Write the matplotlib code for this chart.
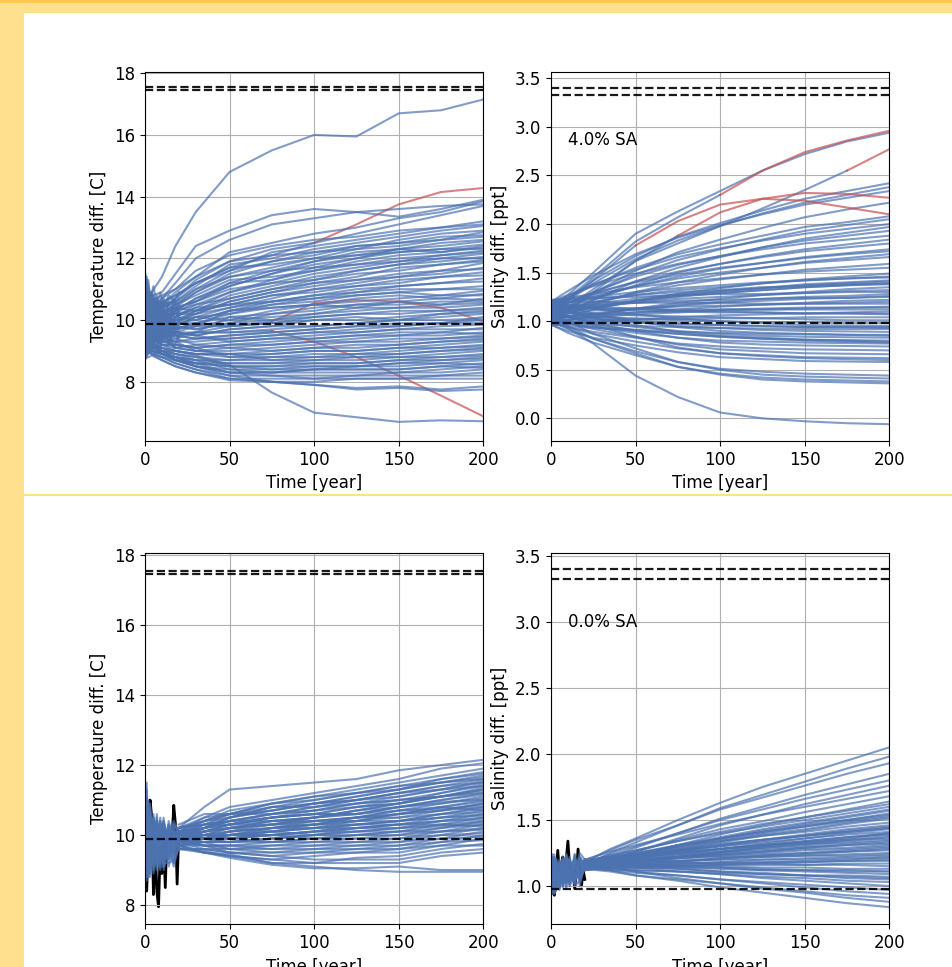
import matplotlib.pyplot as plt
from matplotlib.patches import Rectangle

plt.rcParams['font.size'] = 12

# sample years used for the hand-read trajectories
temp_years = [0, 4, 10, 18, 30, 50, 75, 100, 125, 150, 175, 200]
sal_years = [0, 10, 25, 50, 75, 100, 125, 150, 175, 200]
spinup_years = [0, 1, 2, 3, 5, 7, 9, 11, 14, 17, 20]
forecast_years = [20, 35, 50, 75, 100, 125, 150, 175, 200]
obs_years = list(range(21))
year_ticks = [0, 50, 100, 150, 200]

# reference levels (dashed lines)
temp_levels = [17.55, 17.45, 9.88]
sal_levels = [3.40, 3.325, 0.98]

# ---- 4.0% SA : temperature ----
temp_sa4 = [
    [10.6, 10.9, 11.4, 12.4, 13.5, 14.8, 15.5, 16.0, 15.95, 16.7, 16.8, 17.15],
    [10.2, 10.8, 10.9, 11.5, 12.4, 12.9, 13.4, 13.6, 13.5, 13.35, 13.6, 13.9],
    [11.3, 10.4, 10.7, 11.2, 12.0, 12.6, 13.1, 13.3, 13.5, 13.6, 13.7, 13.75],
    [9.5, 10.6, 10.5, 10.9, 11.4, 12.2, 12.5, 12.8, 13.0, 13.3, 13.5, 13.85],
    [11.0, 10.5, 10.3, 10.7, 11.3, 11.9, 12.3, 12.5, 12.8, 13.1, 13.4, 13.7],
    [8.9, 10.2, 10.6, 10.5, 11.0, 11.6, 12.2, 12.4, 12.6, 12.8, 13.0, 13.2],
    [11.5, 10.7, 10.4, 10.6, 11.1, 11.8, 12.0, 12.3, 12.5, 12.7, 12.9, 13.05],
    [9.8, 9.9, 10.2, 10.4, 10.9, 11.5, 11.9, 12.1, 12.4, 12.5, 12.6, 12.85],
    [10.7, 10.1, 10.5, 10.6, 11.0, 11.4, 11.7, 12.0, 12.3, 12.4, 12.6, 12.7],
    [9.2, 10.0, 9.9, 10.3, 10.7, 11.2, 11.6, 11.9, 12.1, 12.3, 12.4, 12.55],
    [10.9, 10.4, 10.1, 10.2, 10.6, 11.1, 11.5, 11.8, 12.0, 12.2, 12.3, 12.45],
    [10.3, 9.7, 10.0, 10.5, 10.8, 11.3, 11.4, 11.6, 11.9, 12.1, 12.2, 12.35],
    [9.6, 10.6, 10.3, 10.1, 10.4, 10.9, 11.3, 11.7, 11.8, 12.0, 12.1, 12.25],
    [11.2, 9.9, 10.2, 10.4, 10.6, 11.0, 11.2, 11.5, 11.7, 11.9, 12.0, 12.15],
    [10.1, 10.5, 9.8, 10.0, 10.3, 10.8, 11.1, 11.4, 11.6, 11.8, 11.9, 12.05],
    [8.8, 9.6, 10.1, 10.3, 10.5, 10.7, 11.0, 11.3, 11.5, 11.6, 11.8, 11.95],
    [10.8, 10.2, 10.4, 9.9, 10.2, 10.6, 10.9, 11.1, 11.3, 11.5, 11.6, 11.85],
    [9.4, 9.8, 9.7, 10.1, 10.4, 10.5, 10.8, 11.0, 11.2, 11.4, 11.5, 11.7],
    [10.5, 10.9, 10.0, 9.8, 10.1, 10.4, 10.7, 11.0, 11.1, 11.2, 11.4, 11.55],
    [9.9, 9.5, 9.6, 9.9, 10.0, 10.3, 10.6, 10.8, 11.0, 11.1, 11.2, 11.35],
    [11.4, 10.3, 9.9, 10.2, 10.3, 10.5, 10.6, 10.7, 10.9, 11.0, 11.0, 11.1],
    [9.0, 9.4, 9.8, 9.7, 9.9, 10.2, 10.5, 10.6, 10.8, 10.9, 10.8, 10.95],
    [10.4, 10.0, 9.5, 9.6, 9.8, 10.3, 10.4, 10.5, 10.6, 10.7, 10.8, 10.8],
    [9.7, 10.7, 10.2, 10.0, 10.1, 10.0, 10.3, 10.5, 10.4, 10.6, 10.5, 10.7],
    [10.0, 9.3, 9.7, 9.8, 9.7, 9.9, 10.2, 10.3, 10.5, 10.5, 10.6, 10.6],
    [11.1, 10.6, 9.9, 9.5, 9.6, 10.1, 10.0, 10.2, 10.3, 10.4, 10.4, 10.5],
    [9.3, 9.9, 9.4, 9.7, 9.9, 9.8, 9.9, 10.1, 10.2, 10.2, 10.3, 10.4],
    [10.6, 9.6, 10.0, 9.6, 9.5, 9.7, 9.8, 10.0, 10.1, 10.0, 10.2, 10.3],
    [10.2, 9.4, 9.6, 9.4, 9.6, 9.6, 9.7, 9.8, 9.9, 10.0, 10.1, 10.2],
    [8.7, 9.2, 9.5, 9.5, 9.4, 9.5, 9.6, 9.7, 9.8, 9.9, 9.9, 10.1],
    [10.9, 10.1, 9.3, 9.3, 9.3, 9.4, 9.5, 9.6, 9.7, 9.8, 9.9, 10.0],
    [9.5, 9.0, 9.4, 9.6, 9.5, 9.3, 9.4, 9.5, 9.6, 9.7, 9.8, 9.85],
    [10.4, 9.7, 9.2, 9.2, 9.1, 9.2, 9.3, 9.4, 9.5, 9.6, 9.6, 9.75],
    [9.1, 9.5, 9.6, 9.1, 9.2, 9.1, 9.2, 9.3, 9.4, 9.5, 9.5, 9.6],
    [11.0, 9.8, 9.4, 9.3, 9.0, 9.0, 9.1, 9.2, 9.3, 9.3, 9.4, 9.5],
    [9.6, 9.1, 9.1, 9.0, 8.9, 8.9, 9.0, 9.1, 9.1, 9.2, 9.3, 9.4],
    [10.1, 9.4, 9.3, 9.2, 9.1, 8.8, 8.9, 9.0, 9.0, 9.1, 9.2, 9.3],
    [8.9, 9.3, 9.0, 8.9, 8.8, 8.7, 8.8, 8.9, 8.9, 9.0, 9.1, 9.2],
    [10.7, 9.6, 9.2, 9.1, 9.0, 8.9, 8.7, 8.8, 8.8, 8.9, 9.0, 9.1],
    [9.4, 9.0, 8.9, 8.8, 8.7, 8.6, 8.6, 8.7, 8.7, 8.8, 8.9, 9.0],
    [10.3, 9.2, 9.0, 8.9, 8.8, 8.5, 8.5, 8.6, 8.6, 8.7, 8.8, 8.9],
    [9.0, 8.9, 8.8, 8.7, 8.6, 8.5, 8.4, 8.5, 8.5, 8.6, 8.7, 8.8],
    [9.7, 9.3, 9.1, 8.9, 8.7, 8.4, 8.4, 8.4, 8.5, 8.5, 8.6, 8.7],
    [8.8, 9.1, 8.9, 8.8, 8.6, 8.3, 8.3, 8.4, 8.4, 8.4, 8.5, 8.6],
    [9.9, 9.0, 9.0, 8.7, 8.5, 8.3, 8.3, 8.3, 8.3, 8.3, 8.4, 8.5],
    [9.2, 8.9, 8.8, 8.6, 8.4, 8.2, 8.2, 8.2, 8.2, 8.3, 8.3, 8.4],
    [9.6, 9.2, 8.9, 8.7, 8.5, 8.3, 8.2, 8.1, 8.2, 8.2, 8.2, 8.3],
    [8.9, 9.0, 8.8, 8.6, 8.4, 8.1, 8.1, 8.1, 8.1, 8.1, 8.2, 8.2],
    [9.3, 8.9, 8.7, 8.5, 8.3, 8.1, 8.0, 8.0, 8.1, 8.1, 8.1, 8.1],
    [8.75, 8.85, 8.7, 8.5, 8.3, 8.05, 8.0, 7.9, 7.8, 7.85, 7.75, 7.85],
    [9.4, 9.2, 9.1, 9.0, 8.85, 8.55, 7.65, 7.0, 6.85, 6.7, 6.75, 6.72],
    [9.2, 9.0, 8.9, 8.7, 8.5, 8.2, 8.0, 7.9, 7.75, 7.8, 7.7, 7.75],
    [10.5, 10.0, 10.4, 10.7, 11.2, 11.6, 11.9, 12.2, 12.3, 12.6, 12.8, 12.9],
    [9.9, 10.4, 10.2, 10.5, 10.9, 11.4, 11.6, 11.7, 12.0, 12.3, 12.5, 12.6],
    [10.8, 10.6, 10.0, 10.3, 10.7, 11.1, 11.5, 11.9, 12.2, 12.3, 12.2, 12.4],
    [9.3, 9.8, 10.3, 10.4, 10.6, 11.2, 11.3, 11.6, 11.8, 11.9, 12.1, 12.2],
    [11.1, 10.2, 10.3, 10.1, 10.5, 10.9, 11.2, 11.3, 11.6, 11.8, 12.0, 12.0],
    [10.2, 10.8, 9.9, 10.4, 10.3, 10.7, 11.0, 11.2, 11.4, 11.7, 11.8, 11.9],
    [9.6, 9.9, 10.1, 10.2, 10.2, 10.6, 10.9, 11.2, 11.3, 11.4, 11.6, 11.65],
    [10.7, 9.8, 10.0, 9.9, 10.3, 10.5, 10.8, 10.9, 11.1, 11.3, 11.4, 11.45],
    [9.2, 9.6, 9.9, 10.0, 10.2, 10.4, 10.6, 10.8, 10.9, 11.1, 11.2, 11.25],
    [10.4, 10.3, 9.7, 10.1, 10.0, 10.3, 10.5, 10.7, 10.8, 10.9, 11.0, 11.0],
    [9.8, 9.5, 10.0, 9.8, 10.1, 10.2, 10.4, 10.5, 10.7, 10.8, 10.7, 10.85],
    [10.9, 10.1, 9.6, 9.9, 9.9, 10.1, 10.2, 10.4, 10.5, 10.6, 10.7, 10.65],
    [9.5, 10.2, 9.8, 9.7, 9.8, 10.0, 10.1, 10.2, 10.4, 10.4, 10.5, 10.55],
    [10.1, 9.6, 9.5, 9.8, 9.7, 9.9, 10.0, 10.1, 10.2, 10.3, 10.3, 10.35],
    [11.2, 10.4, 9.7, 9.6, 9.6, 9.8, 9.9, 10.0, 10.0, 10.1, 10.2, 10.25],
    [9.1, 9.4, 9.6, 9.6, 9.5, 9.7, 9.8, 9.8, 9.9, 10.0, 10.0, 10.05],
    [10.6, 9.9, 9.4, 9.5, 9.4, 9.5, 9.6, 9.7, 9.8, 9.8, 9.9, 9.9],
    [9.7, 9.2, 9.5, 9.3, 9.4, 9.4, 9.5, 9.6, 9.6, 9.7, 9.7, 9.7],
    [10.3, 9.5, 9.3, 9.4, 9.2, 9.3, 9.4, 9.4, 9.5, 9.5, 9.6, 9.55],
    [8.9, 9.1, 9.2, 9.2, 9.1, 9.2, 9.2, 9.3, 9.3, 9.4, 9.4, 9.45],
    [10.0, 9.6, 9.4, 9.1, 9.0, 9.1, 9.0, 9.1, 9.2, 9.2, 9.3, 9.35],
    [9.4, 9.1, 9.0, 9.0, 8.9, 8.9, 8.9, 9.0, 9.0, 9.1, 9.1, 9.15],
    [10.5, 9.4, 9.2, 9.0, 8.9, 8.8, 8.8, 8.8, 8.9, 8.9, 9.0, 9.05],
    [9.0, 8.9, 9.0, 8.8, 8.7, 8.7, 8.7, 8.7, 8.8, 8.8, 8.8, 8.85],
    [9.8, 9.3, 8.9, 8.8, 8.6, 8.6, 8.6, 8.6, 8.6, 8.7, 8.7, 8.75],
    [9.2, 9.0, 8.9, 8.7, 8.6, 8.5, 8.5, 8.5, 8.5, 8.6, 8.6, 8.55],
    [9.5, 9.2, 9.0, 8.8, 8.5, 8.4, 8.3, 8.4, 8.4, 8.4, 8.5, 8.45],
    [10.2, 10.6, 10.8, 11.0, 11.6, 12.1, 12.4, 12.6, 12.7, 12.9, 13.0, 13.1],
    [10.0, 10.2, 10.7, 11.0, 11.4, 11.9, 12.1, 12.2, 12.4, 12.5, 12.7, 12.75],
    [11.0, 10.8, 10.5, 10.8, 11.2, 11.7, 11.8, 12.0, 12.1, 12.2, 12.3, 12.3],
]
temp_sa4_red = [
    [10.0, 10.3, 10.6, 10.8, 11.2, 11.7, 12.1, 12.5, 13.1, 13.75, 14.15, 14.28],
    [9.8, 10.2, 9.8, 9.9, 9.8, 9.8, 9.95, 10.55, 10.65, 10.6, 10.4, 9.95],
    [9.5, 9.3, 9.4, 9.5, 9.6, 9.6, 9.65, 9.3, 8.8, 8.2, 7.55, 6.88],
]
temp_sa4_red_from = [100, 75, 75]
temp_sa4_spinup = [
    [11.6, 10.9, 11.3, 10.6, 11.1, 10.5, 10.9, 10.4, 10.8, 10.6, 10.9],
    [8.7, 9.3, 8.9, 9.5, 9.1, 9.6, 9.2, 9.7, 9.3, 9.6, 9.4],
    [10.9, 11.4, 10.2, 10.9, 10.3, 10.8, 10.1, 10.7, 10.3, 10.5, 10.7],
    [9.3, 8.8, 9.8, 9.0, 9.7, 9.2, 9.8, 9.3, 9.7, 9.1, 9.5],
    [10.3, 10.8, 9.5, 10.5, 9.6, 10.4, 9.5, 10.2, 9.8, 10.4, 10.1],
    [11.3, 10.0, 10.8, 9.9, 10.7, 9.9, 10.6, 9.8, 10.5, 9.9, 10.3],
    [9.6, 10.5, 9.2, 10.2, 9.3, 10.1, 9.4, 10.3, 9.5, 10.0, 9.7],
    [10.0, 9.4, 10.4, 9.6, 10.3, 9.5, 10.0, 9.6, 10.1, 9.5, 9.9],
    [11.0, 10.2, 10.6, 10.8, 9.9, 10.6, 10.3, 10.0, 10.6, 10.2, 10.5],
    [9.0, 9.8, 9.4, 9.2, 9.9, 9.4, 9.0, 9.9, 9.2, 9.8, 9.6],
    [10.6, 9.7, 10.0, 10.3, 10.1, 9.8, 10.2, 10.5, 9.9, 10.7, 10.2],
    [9.8, 10.9, 10.1, 9.7, 10.5, 10.2, 9.7, 9.4, 10.2, 9.7, 10.0],
]

# ---- 4.0% SA : salinity ----
sal_sa4 = [
    [1.15, 1.27, 1.5, 1.9, 2.13, 2.34, 2.55, 2.72, 2.85, 2.94],
    [1.1, 1.23, 1.42, 1.67, 1.87, 2.01, 2.14, 2.26, 2.34, 2.42],
    [1.08, 1.21, 1.39, 1.64, 1.83, 1.98, 2.11, 2.22, 2.3, 2.38],
    [1.2, 1.31, 1.47, 1.69, 1.86, 1.99, 2.1, 2.2, 2.27, 2.34],
    [1.0, 1.12, 1.29, 1.52, 1.71, 1.84, 1.96, 2.07, 2.15, 2.22],
    [1.15, 1.24, 1.37, 1.55, 1.69, 1.79, 1.88, 1.97, 2.02, 2.08],
    [1.05, 1.15, 1.29, 1.48, 1.63, 1.74, 1.84, 1.93, 1.99, 2.05],
    [1.18, 1.26, 1.38, 1.53, 1.66, 1.75, 1.83, 1.9, 1.95, 2.0],
    [0.98, 1.08, 1.22, 1.41, 1.55, 1.66, 1.76, 1.85, 1.91, 1.97],
    [1.1, 1.18, 1.3, 1.46, 1.58, 1.67, 1.76, 1.83, 1.88, 1.93],
    [1.2, 1.27, 1.36, 1.49, 1.59, 1.67, 1.74, 1.8, 1.84, 1.88],
    [1.02, 1.1, 1.22, 1.37, 1.5, 1.59, 1.67, 1.74, 1.79, 1.84],
    [1.12, 1.19, 1.28, 1.41, 1.51, 1.59, 1.66, 1.72, 1.76, 1.8],
    [1.08, 1.15, 1.24, 1.36, 1.46, 1.54, 1.6, 1.66, 1.7, 1.74],
    [1.16, 1.22, 1.29, 1.4, 1.48, 1.55, 1.6, 1.65, 1.69, 1.72],
    [1.0, 1.07, 1.17, 1.3, 1.4, 1.48, 1.55, 1.61, 1.65, 1.69],
    [1.14, 1.19, 1.26, 1.36, 1.44, 1.5, 1.55, 1.6, 1.63, 1.66],
    [1.06, 1.11, 1.19, 1.29, 1.37, 1.43, 1.48, 1.53, 1.56, 1.59],
    [1.2, 1.24, 1.28, 1.35, 1.4, 1.44, 1.48, 1.51, 1.53, 1.55],
    [1.0, 1.05, 1.12, 1.21, 1.28, 1.34, 1.39, 1.43, 1.46, 1.49],
    [1.12, 1.15, 1.2, 1.27, 1.32, 1.35, 1.39, 1.42, 1.44, 1.46],
    [1.05, 1.09, 1.14, 1.21, 1.26, 1.31, 1.34, 1.38, 1.4, 1.42],
    [1.18, 1.2, 1.23, 1.27, 1.3, 1.32, 1.35, 1.36, 1.38, 1.39],
    [0.97, 1.01, 1.06, 1.13, 1.19, 1.23, 1.27, 1.3, 1.33, 1.35],
    [1.1, 1.12, 1.15, 1.19, 1.23, 1.25, 1.27, 1.29, 1.31, 1.32],
    [1.22, 1.23, 1.24, 1.25, 1.27, 1.28, 1.28, 1.29, 1.3, 1.3],
    [1.02, 1.05, 1.08, 1.13, 1.17, 1.2, 1.23, 1.25, 1.26, 1.28],
    [1.15, 1.16, 1.17, 1.19, 1.21, 1.22, 1.23, 1.24, 1.24, 1.25],
    [0.99, 1.01, 1.05, 1.09, 1.12, 1.15, 1.17, 1.19, 1.21, 1.22],
    [1.08, 1.09, 1.11, 1.13, 1.15, 1.16, 1.17, 1.18, 1.19, 1.2],
    [1.2, 1.2, 1.2, 1.19, 1.19, 1.19, 1.18, 1.18, 1.18, 1.18],
    [1.04, 1.05, 1.07, 1.09, 1.1, 1.12, 1.13, 1.14, 1.14, 1.15],
    [1.13, 1.13, 1.13, 1.13, 1.12, 1.12, 1.12, 1.12, 1.12, 1.12],
    [0.96, 0.97, 0.99, 1.02, 1.04, 1.06, 1.07, 1.08, 1.09, 1.1],
    [1.17, 1.16, 1.15, 1.13, 1.11, 1.1, 1.09, 1.08, 1.08, 1.07],
    [1.0, 1.0, 1.01, 1.02, 1.02, 1.03, 1.03, 1.04, 1.04, 1.04],
    [1.1, 1.09, 1.08, 1.06, 1.05, 1.04, 1.03, 1.02, 1.01, 1.01],
    [1.06, 1.05, 1.04, 1.03, 1.01, 1.0, 0.99, 0.99, 0.98, 0.98],
    [1.2, 1.17, 1.13, 1.07, 1.03, 1.0, 0.98, 0.96, 0.955, 0.95],
    [1.0, 0.99, 0.97, 0.95, 0.94, 0.93, 0.925, 0.92, 0.92, 0.92],
    [1.12, 1.09, 1.04, 0.99, 0.95, 0.93, 0.91, 0.9, 0.895, 0.89],
    [0.97, 0.95, 0.93, 0.91, 0.89, 0.88, 0.87, 0.865, 0.86, 0.86],
    [1.08, 1.04, 1.0, 0.94, 0.9, 0.87, 0.85, 0.84, 0.835, 0.83],
    [1.15, 1.1, 1.03, 0.96, 0.89, 0.85, 0.83, 0.81, 0.805, 0.8],
    [1.02, 0.98, 0.94, 0.88, 0.83, 0.8, 0.79, 0.78, 0.775, 0.77],
    [1.1, 1.05, 0.98, 0.9, 0.83, 0.78, 0.76, 0.75, 0.745, 0.74],
    [0.98, 0.94, 0.89, 0.83, 0.77, 0.74, 0.72, 0.71, 0.705, 0.7],
    [1.05, 0.99, 0.92, 0.84, 0.76, 0.71, 0.69, 0.67, 0.665, 0.66],
    [1.0, 0.94, 0.87, 0.79, 0.72, 0.67, 0.65, 0.63, 0.625, 0.62],
    [1.13, 1.05, 0.96, 0.84, 0.73, 0.67, 0.64, 0.62, 0.61, 0.6],
    [0.96, 0.9, 0.83, 0.75, 0.68, 0.63, 0.61, 0.59, 0.585, 0.58],
    [1.0, 0.92, 0.82, 0.69, 0.58, 0.51, 0.48, 0.46, 0.45, 0.44],
    [1.1, 1.0, 0.87, 0.72, 0.58, 0.5, 0.45, 0.43, 0.42, 0.41],
    [0.97, 0.88, 0.78, 0.65, 0.53, 0.46, 0.42, 0.4, 0.39, 0.38],
    [1.05, 0.95, 0.82, 0.67, 0.53, 0.45, 0.4, 0.38, 0.37, 0.36],
    [1.0, 0.93, 0.77, 0.44, 0.22, 0.06, 0.0, -0.03, -0.05, -0.06],
    [1.1, 1.12, 1.16, 1.21, 1.26, 1.29, 1.32, 1.35, 1.37, 1.38],
    [1.02, 1.04, 1.07, 1.12, 1.16, 1.19, 1.21, 1.23, 1.24, 1.26],
    [1.15, 1.14, 1.13, 1.11, 1.1, 1.09, 1.09, 1.08, 1.08, 1.08],
    [1.05, 1.04, 1.02, 0.99, 0.97, 0.96, 0.95, 0.94, 0.94, 0.94],
    [1.18, 1.14, 1.08, 1.0, 0.94, 0.9, 0.88, 0.87, 0.86, 0.85],
    [0.99, 0.97, 0.94, 0.9, 0.87, 0.84, 0.82, 0.81, 0.8, 0.79],
    [1.12, 1.14, 1.18, 1.23, 1.28, 1.31, 1.34, 1.37, 1.39, 1.41],
    [1.07, 1.1, 1.14, 1.2, 1.25, 1.29, 1.32, 1.35, 1.37, 1.39],
    [1.2, 1.22, 1.25, 1.3, 1.34, 1.37, 1.4, 1.42, 1.44, 1.45],
    [1.0, 1.02, 1.04, 1.07, 1.09, 1.11, 1.12, 1.13, 1.14, 1.14],
    [1.13, 1.1, 1.06, 1.01, 0.98, 0.96, 0.95, 0.94, 0.94, 0.93],
    [1.03, 1.0, 0.96, 0.91, 0.87, 0.84, 0.82, 0.8, 0.79, 0.78],
]
sal_sa4_red = [
    [1.12, 1.24, 1.45, 1.82, 2.07, 2.3, 2.55, 2.74, 2.86, 2.96],
    [1.0, 1.1, 1.3, 1.62, 1.8, 1.98, 2.16, 2.35, 2.55, 2.77],
    [1.1, 1.22, 1.42, 1.78, 2.03, 2.2, 2.26, 2.24, 2.17, 2.10],
    [1.05, 1.15, 1.33, 1.62, 1.88, 2.12, 2.26, 2.32, 2.31, 2.27],
]
sal_sa4_red_from = [100, 175, 50, 75]

# ---- 0.0% SA : temperature ----
temp_sa0_spinup = [
    [11.6, 10.4, 11.0, 9.8, 10.5, 9.9, 10.4, 9.8, 10.3, 10.0, 10.2],
    [8.6, 9.8, 8.8, 10.2, 9.1, 10.1, 9.3, 10.0, 9.4, 9.9, 9.7],
    [10.8, 11.3, 9.6, 10.6, 9.9, 10.5, 9.7, 10.4, 9.8, 10.3, 10.0],
    [9.2, 8.7, 10.4, 9.0, 10.2, 9.2, 10.3, 9.3, 10.1, 9.4, 9.9],
    [10.1, 10.9, 8.9, 10.7, 9.4, 10.6, 9.2, 10.2, 9.6, 10.1, 9.8],
    [11.2, 9.3, 10.6, 9.5, 10.6, 9.6, 10.5, 9.6, 10.2, 9.7, 10.1],
    [9.6, 10.6, 9.2, 10.9, 9.0, 10.3, 9.5, 10.5, 9.3, 10.2, 9.8],
    [8.9, 10.2, 10.1, 9.3, 9.8, 9.4, 10.0, 9.1, 9.9, 9.5, 9.9],
    [10.5, 9.0, 10.8, 9.6, 10.3, 9.1, 9.9, 9.7, 10.3, 9.2, 10.0],
    [9.9, 11.1, 9.4, 10.4, 9.3, 10.4, 9.1, 10.3, 9.5, 10.0, 9.6],
    [11.4, 9.6, 9.9, 10.1, 10.1, 9.7, 10.2, 9.4, 9.7, 9.8, 10.2],
    [8.8, 9.4, 9.7, 8.9, 9.6, 9.0, 9.6, 9.2, 9.2, 9.3, 9.6],
    [10.3, 10.0, 10.3, 10.0, 9.7, 10.0, 9.4, 9.9, 10.0, 10.4, 10.1],
    [9.4, 8.9, 9.1, 9.9, 8.9, 9.5, 9.8, 9.0, 9.6, 9.1, 9.7],
    [10.7, 10.7, 10.5, 9.2, 10.4, 9.3, 9.9, 10.1, 9.1, 9.7, 9.9],
    [9.0, 9.5, 9.3, 10.5, 9.5, 9.8, 9.0, 9.5, 9.9, 9.6, 10.0],
    [10.0, 10.3, 8.8, 9.4, 10.0, 10.2, 10.1, 9.3, 9.4, 10.0, 9.8],
    [11.0, 9.1, 10.0, 10.3, 9.2, 9.4, 9.3, 10.0, 10.1, 9.4, 10.1],
    [9.7, 9.7, 10.2, 8.8, 10.0, 9.9, 9.6, 9.6, 9.5, 9.9, 9.9],
    [10.4, 8.8, 9.5, 10.0, 9.7, 9.2, 10.2, 9.8, 9.8, 9.5, 10.0],
    [9.1, 10.5, 9.9, 9.7, 10.3, 9.7, 9.4, 10.2, 9.3, 10.1, 9.9],
    [10.9, 9.9, 9.0, 10.4, 9.6, 10.0, 9.8, 9.2, 10.0, 9.8, 10.1],
    [10.2, 11.5, 9.9, 9.6, 10.3, 9.6, 9.9, 10.4, 9.6, 9.7, 10.0],
    [9.5, 9.1, 10.6, 10.3, 9.2, 10.4, 9.7, 9.5, 10.2, 9.6, 9.8],
    [11.3, 10.1, 9.3, 10.8, 9.8, 9.3, 10.3, 9.6, 9.4, 10.3, 10.1],
    [8.7, 9.9, 10.3, 9.1, 10.5, 9.8, 9.2, 10.1, 9.8, 9.2, 9.7],
    [10.6, 9.4, 9.7, 10.5, 9.4, 10.2, 10.1, 9.3, 10.4, 9.9, 10.2],
    [9.3, 10.8, 10.0, 9.5, 9.9, 9.5, 10.4, 9.9, 9.5, 10.1, 9.9],
    [10.8, 9.5, 10.4, 9.4, 10.2, 9.9, 9.5, 10.3, 9.7, 9.6, 10.0],
    [9.4, 10.1, 9.0, 10.1, 9.6, 10.1, 9.8, 9.1, 10.0, 9.9, 9.8],
]
temp_sa0 = [
    [10.2, 10.8, 11.3, 11.4, 11.5, 11.6, 11.85, 12.0, 12.15],
    [10.1, 10.5, 10.8, 11.0, 11.2, 11.4, 11.6, 11.9, 12.05],
    [10.0, 10.4, 10.7, 10.9, 11.1, 11.3, 11.5, 11.7, 11.9],
    [10.3, 10.6, 10.6, 10.8, 11.0, 11.2, 11.4, 11.6, 11.8],
    [9.9, 10.2, 10.5, 10.7, 10.9, 11.1, 11.3, 11.5, 11.7],
    [10.2, 10.4, 10.6, 10.6, 10.8, 11.0, 11.2, 11.4, 11.6],
    [10.0, 10.3, 10.4, 10.6, 10.7, 10.9, 11.1, 11.3, 11.5],
    [9.8, 10.1, 10.3, 10.5, 10.6, 10.8, 11.0, 11.2, 11.4],
    [10.1, 10.2, 10.4, 10.4, 10.5, 10.7, 10.9, 11.1, 11.3],
    [9.9, 10.0, 10.2, 10.3, 10.5, 10.6, 10.8, 11.0, 11.2],
    [10.2, 10.3, 10.3, 10.4, 10.4, 10.5, 10.7, 10.9, 11.1],
    [9.7, 9.9, 10.1, 10.2, 10.3, 10.5, 10.6, 10.8, 11.0],
    [10.0, 10.1, 10.2, 10.1, 10.2, 10.4, 10.5, 10.7, 10.9],
    [9.8, 10.0, 10.0, 10.2, 10.3, 10.3, 10.4, 10.6, 10.8],
    [10.1, 10.0, 9.9, 10.0, 10.1, 10.2, 10.3, 10.5, 10.7],
    [9.9, 9.9, 10.0, 10.1, 10.0, 10.1, 10.2, 10.4, 10.6],
    [9.7, 9.8, 9.8, 9.9, 10.0, 10.0, 10.1, 10.3, 10.5],
    [10.0, 9.9, 9.9, 9.8, 9.9, 9.9, 10.0, 10.2, 10.4],
    [9.8, 9.7, 9.7, 9.7, 9.8, 9.8, 9.9, 10.1, 10.3],
    [9.9, 9.8, 9.6, 9.6, 9.7, 9.8, 9.8, 10.0, 10.2],
    [9.6, 9.6, 9.6, 9.5, 9.6, 9.7, 9.7, 9.9, 10.1],
    [9.8, 9.7, 9.5, 9.4, 9.5, 9.6, 9.6, 9.8, 10.0],
    [9.7, 9.5, 9.4, 9.3, 9.4, 9.5, 9.5, 9.7, 9.9],
    [9.6, 9.5, 9.45, 9.2, 9.2, 9.35, 9.4, 9.6, 9.75],
    [9.8, 9.6, 9.5, 9.4, 9.3, 9.3, 9.3, 9.5, 9.6],
    [9.7, 9.5, 9.4, 9.3, 9.2, 9.2, 9.2, 9.4, 9.5],
    [9.65, 9.5, 9.35, 9.15, 9.05, 9.05, 9.1, 9.0, 9.0],
    [9.7, 9.55, 9.4, 9.2, 9.1, 9.0, 8.95, 8.95, 8.95],
    [10.1, 10.3, 10.5, 10.8, 10.8, 10.9, 11.0, 11.1, 11.2],
    [10.0, 10.2, 10.3, 10.5, 10.6, 10.6, 10.7, 10.8, 10.95],
    [9.9, 10.1, 10.2, 10.3, 10.4, 10.5, 10.5, 10.6, 10.65],
    [10.2, 10.3, 10.4, 10.5, 10.6, 10.8, 10.9, 11.1, 11.35],
    [9.8, 9.9, 10.1, 10.3, 10.4, 10.5, 10.7, 10.75, 10.85],
    [10.0, 10.0, 10.1, 10.2, 10.3, 10.4, 10.4, 10.5, 10.55],
    [9.9, 10.0, 9.9, 10.0, 10.1, 10.3, 10.4, 10.6, 10.75],
    [10.1, 10.2, 10.3, 10.3, 10.5, 10.6, 10.8, 10.95, 11.0],
    [9.7, 9.8, 9.9, 10.1, 10.2, 10.3, 10.3, 10.4, 10.45],
    [9.8, 9.8, 9.8, 9.9, 10.0, 10.2, 10.2, 10.25, 10.35],
    [10.0, 9.9, 10.0, 10.0, 9.9, 10.0, 10.1, 10.1, 10.15],
    [9.9, 10.1, 10.2, 10.4, 10.5, 10.7, 10.9, 11.2, 11.45],
    [10.1, 10.4, 10.5, 10.7, 10.9, 11.0, 11.2, 11.3, 11.55],
    [9.8, 9.9, 10.0, 10.0, 10.1, 10.1, 10.2, 10.3, 10.25],
    [9.9, 10.0, 10.0, 10.1, 10.3, 10.4, 10.6, 10.7, 10.8],
    [10.0, 10.3, 10.6, 10.9, 11.0, 11.2, 11.4, 11.5, 11.65],
    [9.9, 10.2, 10.4, 10.6, 10.8, 11.0, 11.1, 11.3, 11.4],
    [10.2, 10.5, 10.6, 10.7, 10.9, 11.1, 11.3, 11.6, 11.75],
    [9.8, 10.0, 10.2, 10.4, 10.5, 10.7, 10.8, 10.9, 11.05],
    [10.1, 10.1, 10.3, 10.5, 10.6, 10.6, 10.8, 11.0, 11.15],
    [9.7, 9.9, 10.0, 10.2, 10.4, 10.4, 10.6, 10.7, 10.9],
    [10.0, 10.1, 10.2, 10.3, 10.3, 10.5, 10.6, 10.8, 10.7],
    [9.9, 9.9, 10.0, 10.1, 10.2, 10.3, 10.4, 10.5, 10.6],
    [9.8, 9.9, 9.9, 10.0, 10.1, 10.2, 10.3, 10.4, 10.5],
    [10.1, 10.0, 10.1, 10.2, 10.2, 10.2, 10.3, 10.3, 10.4],
    [9.9, 9.8, 9.8, 9.9, 10.0, 10.1, 10.1, 10.2, 10.3],
    [9.7, 9.7, 9.7, 9.8, 9.9, 10.0, 10.0, 10.1, 10.2],
    [10.0, 9.9, 9.8, 9.8, 9.8, 9.9, 9.9, 10.0, 10.05],
    [9.8, 9.7, 9.6, 9.7, 9.7, 9.7, 9.8, 9.9, 9.95],
    [9.9, 9.7, 9.7, 9.6, 9.6, 9.6, 9.7, 9.8, 9.85],
    [9.6, 9.6, 9.5, 9.5, 9.5, 9.5, 9.6, 9.7, 9.7],
    [10.2, 10.4, 10.6, 10.9, 11.1, 11.2, 11.3, 11.5, 11.6],
    [10.0, 10.2, 10.5, 10.8, 10.9, 11.0, 11.2, 11.4, 11.5],
    [9.9, 10.1, 10.3, 10.5, 10.7, 10.9, 11.0, 11.1, 11.3],
    [10.1, 10.2, 10.4, 10.6, 10.7, 10.8, 10.9, 11.1, 11.25],
]
temp_sa0_obs = [9.6, 8.4, 9.8, 11.0, 10.5, 8.3, 9.7, 8.4, 7.95, 9.6, 8.9,
                9.8, 8.5, 10.1, 10.0, 10.1, 9.9, 10.85, 10.3, 8.6, 10.1]

# ---- 0.0% SA : salinity ----
sal_sa0_spinup = [
    [1.25, 1.10, 1.18, 1.0, 1.12, 1.05, 1.2, 1.08, 1.22, 1.1, 1.18],
    [0.93, 1.05, 0.95, 1.12, 0.98, 1.15, 1.03, 1.2, 1.06, 1.18, 1.14],
    [1.12, 1.22, 1.0, 1.08, 1.15, 1.02, 1.24, 1.1, 1.12, 1.22, 1.16],
    [1.02, 0.94, 1.15, 0.97, 1.05, 1.18, 1.08, 1.04, 1.2, 1.05, 1.13],
    [1.18, 1.0, 1.08, 1.14, 1.0, 1.1, 1.0, 1.22, 1.02, 1.15, 1.19],
    [0.97, 1.16, 0.97, 1.04, 1.16, 0.99, 1.15, 1.05, 1.17, 1.08, 1.12],
    [1.22, 1.08, 1.24, 1.02, 1.08, 1.2, 1.06, 1.16, 1.1, 1.25, 1.2],
    [1.05, 1.2, 1.05, 1.18, 0.99, 1.12, 1.18, 1.02, 1.24, 1.03, 1.15],
    [0.95, 0.98, 1.12, 1.1, 1.14, 1.04, 1.1, 1.19, 1.05, 1.12, 1.17],
    [1.15, 1.24, 0.94, 0.98, 1.04, 1.16, 1.02, 1.12, 1.15, 1.2, 1.13],
    [1.08, 1.02, 1.2, 1.15, 1.2, 1.08, 1.22, 1.0, 1.08, 1.06, 1.18],
    [1.2, 0.96, 1.02, 1.06, 1.1, 1.22, 1.12, 1.14, 1.2, 1.16, 1.15],
    [1.0, 1.12, 1.1, 0.99, 1.02, 1.06, 1.04, 1.06, 1.1, 1.12, 1.12],
    [1.1, 1.18, 0.98, 1.2, 1.06, 1.14, 1.16, 1.18, 1.0, 1.04, 1.2],
    [0.98, 1.06, 1.16, 1.03, 1.18, 1.0, 1.08, 1.12, 1.14, 1.18, 1.14],
    [1.24, 1.14, 1.06, 1.1, 0.97, 1.1, 1.2, 1.08, 1.16, 1.1, 1.17],
    [1.12, 0.99, 1.22, 1.06, 1.12, 1.16, 0.98, 1.14, 1.04, 1.22, 1.16],
    [1.03, 1.18, 1.0, 1.16, 1.02, 1.2, 1.12, 1.0, 1.16, 1.08, 1.13],
    [1.21, 1.05, 1.12, 0.96, 1.14, 1.0, 1.24, 1.16, 1.08, 1.14, 1.19],
    [0.96, 1.1, 1.04, 1.21, 1.08, 1.06, 1.04, 1.2, 1.12, 1.2, 1.15],
    [1.14, 1.22, 1.1, 1.05, 1.18, 1.12, 1.1, 1.02, 1.24, 1.0, 1.17],
    [1.07, 0.97, 1.18, 1.12, 1.01, 1.19, 1.14, 1.1, 1.02, 1.16, 1.14],
]
sal_sa0 = [
    [1.18, 1.28, 1.36, 1.50, 1.63, 1.75, 1.85, 1.95, 2.05],
    [1.16, 1.25, 1.33, 1.46, 1.59, 1.69, 1.79, 1.89, 1.98],
    [1.19, 1.27, 1.35, 1.46, 1.58, 1.67, 1.76, 1.85, 1.93],
    [1.14, 1.22, 1.29, 1.40, 1.51, 1.60, 1.69, 1.77, 1.85],
    [1.17, 1.24, 1.30, 1.40, 1.50, 1.58, 1.66, 1.73, 1.80],
    [1.13, 1.20, 1.26, 1.36, 1.46, 1.54, 1.62, 1.69, 1.76],
    [1.2, 1.26, 1.31, 1.39, 1.47, 1.54, 1.6, 1.66, 1.72],
    [1.15, 1.21, 1.26, 1.35, 1.43, 1.49, 1.56, 1.62, 1.68],
    [1.12, 1.18, 1.23, 1.31, 1.39, 1.46, 1.52, 1.58, 1.64],
    [1.18, 1.23, 1.27, 1.34, 1.40, 1.45, 1.50, 1.55, 1.60],
    [1.14, 1.19, 1.23, 1.30, 1.36, 1.42, 1.47, 1.52, 1.57],
    [1.17, 1.21, 1.25, 1.31, 1.36, 1.41, 1.46, 1.50, 1.54],
    [1.13, 1.17, 1.21, 1.27, 1.33, 1.38, 1.42, 1.47, 1.51],
    [1.19, 1.22, 1.25, 1.30, 1.34, 1.38, 1.41, 1.45, 1.48],
    [1.15, 1.18, 1.22, 1.26, 1.31, 1.35, 1.39, 1.43, 1.46],
    [1.12, 1.15, 1.19, 1.23, 1.28, 1.32, 1.36, 1.40, 1.43],
    [1.18, 1.21, 1.23, 1.27, 1.30, 1.33, 1.36, 1.39, 1.41],
    [1.16, 1.19, 1.21, 1.25, 1.28, 1.31, 1.34, 1.37, 1.39],
    [1.13, 1.16, 1.18, 1.22, 1.25, 1.29, 1.31, 1.34, 1.37],
    [1.2, 1.22, 1.23, 1.26, 1.28, 1.30, 1.32, 1.33, 1.35],
    [1.14, 1.16, 1.18, 1.21, 1.24, 1.26, 1.29, 1.31, 1.33],
    [1.17, 1.19, 1.20, 1.22, 1.24, 1.26, 1.28, 1.29, 1.31],
    [1.12, 1.14, 1.16, 1.18, 1.21, 1.23, 1.25, 1.27, 1.29],
    [1.19, 1.20, 1.21, 1.22, 1.23, 1.24, 1.25, 1.26, 1.27],
    [1.15, 1.16, 1.17, 1.19, 1.20, 1.22, 1.23, 1.24, 1.25],
    [1.13, 1.14, 1.15, 1.17, 1.18, 1.20, 1.21, 1.22, 1.23],
    [1.18, 1.18, 1.19, 1.19, 1.20, 1.20, 1.20, 1.21, 1.21],
    [1.16, 1.16, 1.17, 1.17, 1.18, 1.18, 1.18, 1.19, 1.19],
    [1.14, 1.14, 1.15, 1.15, 1.16, 1.16, 1.16, 1.17, 1.17],
    [1.2, 1.19, 1.19, 1.18, 1.17, 1.17, 1.16, 1.16, 1.15],
    [1.17, 1.17, 1.16, 1.16, 1.15, 1.14, 1.14, 1.13, 1.13],
    [1.15, 1.15, 1.14, 1.14, 1.13, 1.12, 1.12, 1.11, 1.11],
    [1.19, 1.18, 1.17, 1.15, 1.14, 1.12, 1.11, 1.10, 1.09],
    [1.13, 1.12, 1.12, 1.11, 1.10, 1.09, 1.08, 1.08, 1.07],
    [1.17, 1.16, 1.14, 1.13, 1.11, 1.09, 1.08, 1.06, 1.05],
    [1.15, 1.14, 1.12, 1.11, 1.09, 1.07, 1.06, 1.04, 1.03],
    [1.18, 1.16, 1.14, 1.11, 1.09, 1.06, 1.04, 1.02, 1.0],
    [1.14, 1.12, 1.10, 1.08, 1.05, 1.03, 1.01, 0.99, 0.97],
    [1.16, 1.14, 1.11, 1.08, 1.05, 1.02, 0.99, 0.96, 0.94],
    [1.13, 1.11, 1.08, 1.05, 1.02, 0.99, 0.96, 0.93, 0.91],
    [1.17, 1.14, 1.11, 1.06, 1.02, 0.98, 0.95, 0.91, 0.88],
    [1.15, 1.12, 1.08, 1.04, 0.99, 0.95, 0.91, 0.87, 0.84],
    [1.16, 1.19, 1.22, 1.27, 1.31, 1.35, 1.38, 1.42, 1.45],
    [1.14, 1.18, 1.22, 1.28, 1.34, 1.39, 1.43, 1.48, 1.52],
    [1.18, 1.23, 1.27, 1.34, 1.41, 1.47, 1.52, 1.57, 1.62],
    [1.15, 1.17, 1.18, 1.21, 1.23, 1.25, 1.27, 1.28, 1.30],
    [1.12, 1.15, 1.17, 1.22, 1.26, 1.29, 1.32, 1.35, 1.38],
    [1.19, 1.20, 1.20, 1.21, 1.22, 1.22, 1.23, 1.23, 1.24],
    [1.16, 1.20, 1.24, 1.31, 1.37, 1.43, 1.48, 1.53, 1.58],
    [1.15, 1.18, 1.21, 1.26, 1.30, 1.34, 1.38, 1.41, 1.44],
    [1.17, 1.19, 1.22, 1.25, 1.28, 1.31, 1.33, 1.35, 1.36],
    [1.14, 1.16, 1.17, 1.19, 1.21, 1.23, 1.24, 1.26, 1.28],
    [1.18, 1.20, 1.22, 1.24, 1.26, 1.28, 1.30, 1.32, 1.34],
    [1.13, 1.13, 1.14, 1.15, 1.16, 1.17, 1.18, 1.19, 1.20],
    [1.16, 1.15, 1.15, 1.14, 1.14, 1.13, 1.12, 1.12, 1.11],
    [1.18, 1.17, 1.15, 1.13, 1.11, 1.10, 1.08, 1.07, 1.06],
    [1.15, 1.19, 1.23, 1.29, 1.35, 1.40, 1.45, 1.50, 1.55],
    [1.17, 1.21, 1.24, 1.30, 1.36, 1.41, 1.45, 1.49, 1.53],
    [1.12, 1.15, 1.18, 1.22, 1.26, 1.30, 1.33, 1.36, 1.40],
    [1.19, 1.21, 1.24, 1.28, 1.32, 1.35, 1.38, 1.41, 1.44],
    [1.14, 1.17, 1.20, 1.24, 1.28, 1.31, 1.34, 1.37, 1.40],
    [1.16, 1.18, 1.19, 1.22, 1.25, 1.27, 1.29, 1.31, 1.32],
    [1.13, 1.14, 1.14, 1.16, 1.17, 1.18, 1.19, 1.20, 1.22],
]
sal_sa0_obs = [1.05, 0.95, 0.93, 1.1, 1.27, 1.1, 1.15, 1.22, 1.1, 1.2, 1.34,
               1.15, 1.06, 1.12, 0.98, 1.1, 1.28, 1.12, 1.0, 1.12, 1.05]

BLUE = '#4C72B0'
RED = '#C44E52'
LW = 1.5
ALPHA = 0.7


def draw_lines(ax, years, lines, color=BLUE):
    for vals in lines:
        ax.plot(years, vals, color=color, lw=LW, alpha=ALPHA)


def draw_red(ax, years, lines, red_from):
    # blue until the switch year, red afterwards (drawn under the ensemble)
    for vals, start in zip(lines, red_from):
        k = years.index(start)
        ax.plot(years[:k + 1], vals[:k + 1], color=BLUE, lw=LW, alpha=ALPHA)
        ax.plot(years[k:], vals[k:], color=RED, lw=LW, alpha=ALPHA)


def finish(ax, levels, ylim, ylabel, note=None):
    for lev in levels:
        ax.axhline(lev, color='k', ls='--', lw=1.6, alpha=0.9, zorder=5)
    ax.set_xlim(0, 200)
    ax.set_xticks(year_ticks)
    ax.set_ylim(*ylim)
    ax.grid(True)
    ax.set_xlabel('Time [year]')
    ax.set_ylabel(ylabel)
    if note:
        ax.text(0.05, 0.815, note, transform=ax.transAxes, ha='left', va='center')


fig = plt.figure(figsize=(9.52, 9.67), dpi=100)
W, H = 952, 967

# notebook page decoration
yellow = '#FFE08F'
fig.add_artist(Rectangle((0, 0), 24 / W, 1, transform=fig.transFigure,
                         facecolor=yellow, edgecolor='none', zorder=0))
fig.add_artist(Rectangle((0, 1 - 12.5 / H), 1, 12.5 / H, transform=fig.transFigure,
                         facecolor=yellow, edgecolor='none', zorder=0))
fig.add_artist(Rectangle((0, 1 - 3 / H), 1, 3 / H, transform=fig.transFigure,
                         facecolor='#FFC84A', edgecolor='none', zorder=0))
fig.add_artist(Rectangle((24 / W, 1 - 496 / H), 1, 2.5 / H, transform=fig.transFigure,
                         facecolor=yellow, edgecolor='none', zorder=0))


def axes_px(x0, y0, x1, y1):
    return fig.add_axes([x0 / W, 1 - y1 / H, (x1 - x0) / W, (y1 - y0) / H])


ax_t4 = axes_px(145, 71.7, 483.3, 441)
ax_s4 = axes_px(551, 71.7, 889.3, 441)
ax_t0 = axes_px(145, 553.3, 483.3, 924.3)
ax_s0 = axes_px(551, 553.3, 889.3, 924.3)

# 4.0% SA
draw_red(ax_t4, temp_years, temp_sa4_red, temp_sa4_red_from)
draw_lines(ax_t4, spinup_years, temp_sa4_spinup)
draw_lines(ax_t4, temp_years, temp_sa4)
finish(ax_t4, temp_levels, (6.08, 18.05), 'Temperature diff. [C]')

draw_lines(ax_s4, sal_years, sal_sa4)
draw_red(ax_s4, sal_years, sal_sa4_red, sal_sa4_red_from)
finish(ax_s4, sal_levels, (-0.233, 3.568), 'Salinity diff. [ppt]', '4.0% SA')

# 0.0% SA
ax_t0.plot(obs_years, temp_sa0_obs, color='k', lw=2.0, zorder=1)
draw_lines(ax_t0, spinup_years, temp_sa0_spinup)
draw_lines(ax_t0, forecast_years, temp_sa0)
finish(ax_t0, temp_levels, (7.45, 18.05), 'Temperature diff. [C]')

ax_s0.plot(obs_years, sal_sa0_obs, color='k', lw=2.0, zorder=1)
draw_lines(ax_s0, spinup_years, sal_sa0_spinup)
draw_lines(ax_s0, forecast_years, sal_sa0)
finish(ax_s0, sal_levels, (0.71, 3.52), 'Salinity diff. [ppt]', '0.0% SA')

fig.savefig('out.png', dpi=100)
